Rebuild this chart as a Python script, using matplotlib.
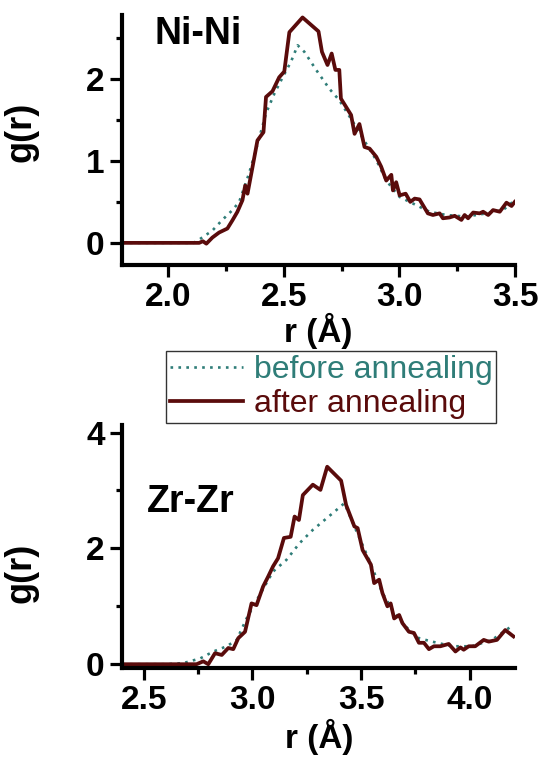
import numpy as np
import matplotlib
matplotlib.use('Agg')
import matplotlib.pyplot as plt

plt.rcParams['font.family'] = ['Liberation Sans', 'DejaVu Sans']

# Ni-Ni, after annealing (solid)
r_ni_after = [1.80, 2.134, 2.150, 2.165, 2.191, 2.220, 2.256, 2.278, 2.299, 2.321, 2.333, 2.343,
              2.365, 2.386, 2.412, 2.423, 2.451, 2.480, 2.502, 2.524, 2.581, 2.650, 2.665,
              2.689, 2.707, 2.723, 2.740, 2.747, 2.791, 2.806, 2.827, 2.849, 2.871, 2.900,
              2.921, 2.943, 2.965, 2.972, 2.986, 3.001, 3.027, 3.047, 3.066, 3.087, 3.123,
              3.145, 3.174, 3.188, 3.217, 3.239, 3.268, 3.282, 3.297, 3.319, 3.347, 3.362,
              3.384, 3.405, 3.434, 3.463, 3.485, 3.499]
g_ni_after = [0.0, 0.0, 0.02, -0.01, 0.065, 0.126, 0.175, 0.276, 0.378, 0.52, 0.70, 0.60,
              0.93, 1.25, 1.35, 1.78, 1.85, 2.02, 2.09, 2.57, 2.75, 2.58, 2.33,
              2.17, 2.31, 2.11, 2.11, 1.76, 1.56, 1.33, 1.45, 1.17, 1.15, 1.05,
              0.93, 0.76, 0.83, 0.64, 0.74, 0.58, 0.60, 0.50, 0.54, 0.53, 0.36,
              0.34, 0.36, 0.30, 0.31, 0.33, 0.28, 0.34, 0.30, 0.37, 0.36, 0.38,
              0.34, 0.40, 0.38, 0.49, 0.45, 0.50]

# Ni-Ni, before annealing (dotted)
r_ni_before = [1.80, 2.110, 2.134, 2.191, 2.234, 2.278, 2.307, 2.350, 2.379, 2.423, 2.459,
               2.495, 2.531, 2.560, 2.589, 2.640, 2.697, 2.740, 2.798, 2.856, 2.900, 2.943,
               3.001, 3.073, 3.130, 3.202, 3.289, 3.376, 3.448, 3.499]
g_ni_before = [0.0, 0.0, 0.04, 0.15, 0.28, 0.40, 0.50, 0.85, 1.13, 1.58, 1.82,
               2.02, 2.21, 2.41, 2.33, 2.11, 1.88, 1.74, 1.48, 1.21, 1.01, 0.76,
               0.56, 0.46, 0.38, 0.34, 0.32, 0.36, 0.40, 0.52]

# Zr-Zr, after annealing (solid)
r_zr_after = [2.40, 2.714, 2.743, 2.774, 2.797, 2.828, 2.859, 2.889, 2.912, 2.935, 2.966,
              2.996, 3.019, 3.049, 3.072, 3.095, 3.118, 3.145, 3.176, 3.194, 3.214, 3.232,
              3.278, 3.313, 3.344, 3.408, 3.431, 3.469, 3.484, 3.507, 3.545, 3.560, 3.583,
              3.598, 3.621, 3.636, 3.652, 3.675, 3.690, 3.720, 3.743, 3.766, 3.789, 3.812,
              3.835, 3.865, 3.903, 3.934, 3.957, 3.972, 3.995, 4.025, 4.064, 4.087, 4.125,
              4.163, 4.201]
g_zr_after = [0.0, 0.0, 0.0, 0.05, 0.0, 0.19, 0.16, 0.28, 0.26, 0.45, 0.56,
              1.05, 1.02, 1.34, 1.51, 1.69, 1.83, 2.18, 2.20, 2.55, 2.49, 2.92,
              3.10, 3.01, 3.41, 3.17, 2.75, 2.38, 2.35, 1.97, 1.72, 1.40, 1.46,
              1.23, 1.00, 1.05, 0.79, 0.85, 0.71, 0.56, 0.54, 0.37, 0.37, 0.26,
              0.31, 0.31, 0.35, 0.22, 0.29, 0.25, 0.31, 0.31, 0.42, 0.39, 0.42,
              0.59, 0.48]

# Zr-Zr, before annealing (dotted)
r_zr_before = [2.40, 2.607, 2.683, 2.760, 2.821, 2.882, 2.928, 2.973, 3.034, 3.095, 3.156,
               3.217, 3.278, 3.370, 3.423, 3.476, 3.537, 3.598, 3.644, 3.705, 3.766, 3.827,
               3.919, 4.010, 4.102, 4.201]
g_zr_before = [0.0, 0.0, 0.02, 0.10, 0.22, 0.31, 0.42, 0.79, 1.20, 1.60, 1.80,
               2.09, 2.32, 2.61, 2.78, 2.32, 1.80, 1.23, 0.94, 0.65, 0.45, 0.39,
               0.31, 0.31, 0.42, 0.68]

c_after = '#5a0b0b'
c_before = '#2f7d78'

fig = plt.figure(figsize=(5.39, 7.65), dpi=100)
ax1 = fig.add_axes([0.2263, 0.6536, 0.7292, 0.3268])
ax2 = fig.add_axes([0.2263, 0.1272, 0.7300, 0.3172])


def style(ax):
    for s in ['top', 'right']:
        ax.spines[s].set_visible(False)
    for s in ['left', 'bottom']:
        ax.spines[s].set_linewidth(3)
    ax.tick_params(which='major', direction='out', length=8.5, width=2.3, pad=4,
                   labelsize=24)
    ax.tick_params(which='minor', direction='out', length=4.5, width=2.3)
    for lab in ax.get_xticklabels() + ax.get_yticklabels():
        lab.set_fontweight('bold')


l1, = ax1.plot(r_ni_before, g_ni_before, color=c_before, lw=1.9, ls=(0, (1, 2.0)),
               label='before annealing')
l2, = ax1.plot(r_ni_after, g_ni_after, color=c_after, lw=2.7, label='after annealing')
ax1.set_xlim(1.8, 3.5)
ax1.set_ylim(-0.27, 2.78)
ax1.set_xticks([2.0, 2.5, 3.0, 3.5])
ax1.set_xticks([2.25, 2.75, 3.25], minor=True)
ax1.set_xticklabels(['2.0', '2.5', '3.0', '3.5'])
ax1.set_yticks([0, 1, 2])
ax1.set_yticks([0.5, 1.5, 2.5], minor=True)
style(ax1)
ax1.set_xlabel('r (Å)', fontsize=24, fontweight='bold', labelpad=0)
ax1.set_ylabel('g(r)', fontsize=26, fontweight='bold')
ax1.yaxis.set_label_coords(-0.212, 0.532)
ax1.text(0.084, 0.884, 'Ni-Ni', transform=ax1.transAxes, fontsize=27,
         fontweight='bold', va='baseline', ha='left')

ax2.plot(r_zr_before, g_zr_before, color=c_before, lw=1.9, ls=(0, (1, 2.0)))
ax2.plot(r_zr_after, g_zr_after, color=c_after, lw=2.7)
ax2.set_xlim(2.4, 4.21)
ax2.set_ylim(-0.06, 4.13)
ax2.set_xticks([2.5, 3.0, 3.5, 4.0])
ax2.set_xticks([2.75, 3.25, 3.75], minor=True)
ax2.set_xticklabels(['2.5', '3.0', '3.5', '4.0'])
ax2.set_yticks([0, 2, 4])
ax2.set_yticks([1, 3], minor=True)
style(ax2)
ax2.set_xlabel('r (Å)', fontsize=24, fontweight='bold', labelpad=2)
ax2.set_ylabel('g(r)', fontsize=26, fontweight='bold')
ax2.yaxis.set_label_coords(-0.212, 0.39)
ax2.text(0.063, 0.643, 'Zr-Zr', transform=ax2.transAxes, fontsize=27,
         fontweight='bold', va='baseline', ha='left')

leg = fig.legend(handles=[l1, l2], loc='upper left', bbox_to_anchor=(0.308, 0.541),
                 fontsize=23, frameon=True, fancybox=False, framealpha=1,
                 edgecolor='#333333', borderpad=0.12, labelspacing=0.12,
                 handlelength=2.3, handletextpad=0.32, borderaxespad=0,
                 labelcolor='linecolor')
leg.get_frame().set_linewidth(1.0)

fig.savefig('out.png', dpi=100)
